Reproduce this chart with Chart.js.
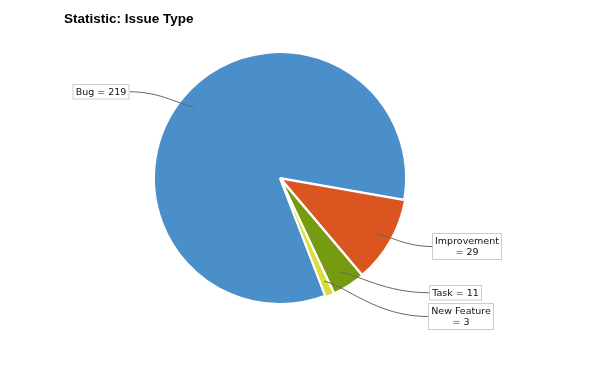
<!DOCTYPE html>
<html>
<head>
<meta charset="utf-8">
<script src="https://cdn.jsdelivr.net/npm/chart.js@4/dist/chart.umd.min.js"></script>
<style>
  html, body { margin: 0; padding: 0; background: #fff; }
  #wrap { width: 593px; height: 371px; }
</style>
</head>
<body>
<div id="wrap"><canvas id="c" width="593" height="371"></canvas></div>
<script>
const categories = ['Bug', 'Improvement', 'Task', 'New Feature'];
const counts = [219, 29, 11, 3];
const sliceColors = ['#4A8FCA', '#DA5520', '#769A10', '#DADE3C'];
const chartTitle = 'Statistic: Issue Type';

// label box layout (left/top of each box, and whether it wraps)
const labelLayout = [
  { left: 72.5, top: 84, side: 'right', wrap: false },
  { left: 432, top: 233, side: 'left', wrap: true },
  { left: 429, top: 285, side: 'left', wrap: false },
  { left: 428, top: 303, side: 'left', wrap: true }
];

const labelPlugin = {
  id: 'pieLabels',
  afterDatasetsDraw(chart) {
    const ctx = chart.ctx;
    const meta = chart.getDatasetMeta(0);
    const font = '9.5px "DejaVu Sans"';
    const lh = 11.5, padX = 3, padY = 2;
    ctx.save();
    ctx.font = font;
    meta.data.forEach((arc, i) => {
      const p = arc.getProps(['x', 'y', 'startAngle', 'endAngle', 'outerRadius'], true);
      const mid = (p.startAngle + p.endAngle) / 2;
      const ax = p.x + Math.cos(mid) * p.outerRadius * 0.89;
      const ay = p.y + Math.sin(mid) * p.outerRadius * 0.89;
      const L = labelLayout[i];
      const lines = L.wrap ? [categories[i], '= ' + counts[i]] : [categories[i] + ' = ' + counts[i]];
      const tw = Math.max(...lines.map(t => ctx.measureText(t).width));
      const w = Math.round(tw + padX * 2), h = lines.length * lh + padY * 2;
      const bx = L.left, by = L.top;
      const lx = L.side === 'right' ? bx + w : bx;
      const ly = by + h / 2;
      ctx.strokeStyle = '#666666';
      ctx.lineWidth = 1;
      ctx.beginPath();
      ctx.moveTo(lx, ly);
      const dx = ax - lx;
      ctx.bezierCurveTo(lx + dx * 0.5, ly, ax - dx * 0.2, ay + (ly - ay) * 0.1, ax, ay);
      ctx.stroke();
      ctx.fillStyle = '#ffffff';
      ctx.fillRect(bx, by, w, h);
      ctx.strokeStyle = '#cccccc';
      ctx.strokeRect(bx + 0.5, by + 0.5, w - 1, h - 1);
      ctx.fillStyle = '#111111';
      ctx.textAlign = 'center';
      ctx.textBaseline = 'middle';
      lines.forEach((t, k) => {
        ctx.fillText(t, bx + w / 2, by + padY + lh * k + lh / 2 + 0.5);
      });
    });
    ctx.restore();
  }
};

new Chart(document.getElementById('c'), {
  type: 'pie',
  data: {
    labels: categories,
    datasets: [{
      data: counts,
      backgroundColor: sliceColors,
      borderColor: '#ffffff',
      borderWidth: 2,
      offset: [0, 3, 3, 3],
      radius: 126
    }]
  },
  options: {
    responsive: false,
    animation: false,
    rotation: 159,
    layout: { padding: { left: 64, right: 97, top: 0, bottom: 52 } },
    plugins: {
      legend: { display: false },
      tooltip: { enabled: false },
      title: {
        display: true,
        text: chartTitle,
        align: 'start',
        color: '#000000',
        font: { family: '"Liberation Sans", Arial, sans-serif', size: 13.5, weight: 'bold', lineHeight: 1.2 },
        padding: { top: 11, bottom: 10 }
      }
    }
  },
  plugins: [labelPlugin]
});
</script>
</body>
</html>
